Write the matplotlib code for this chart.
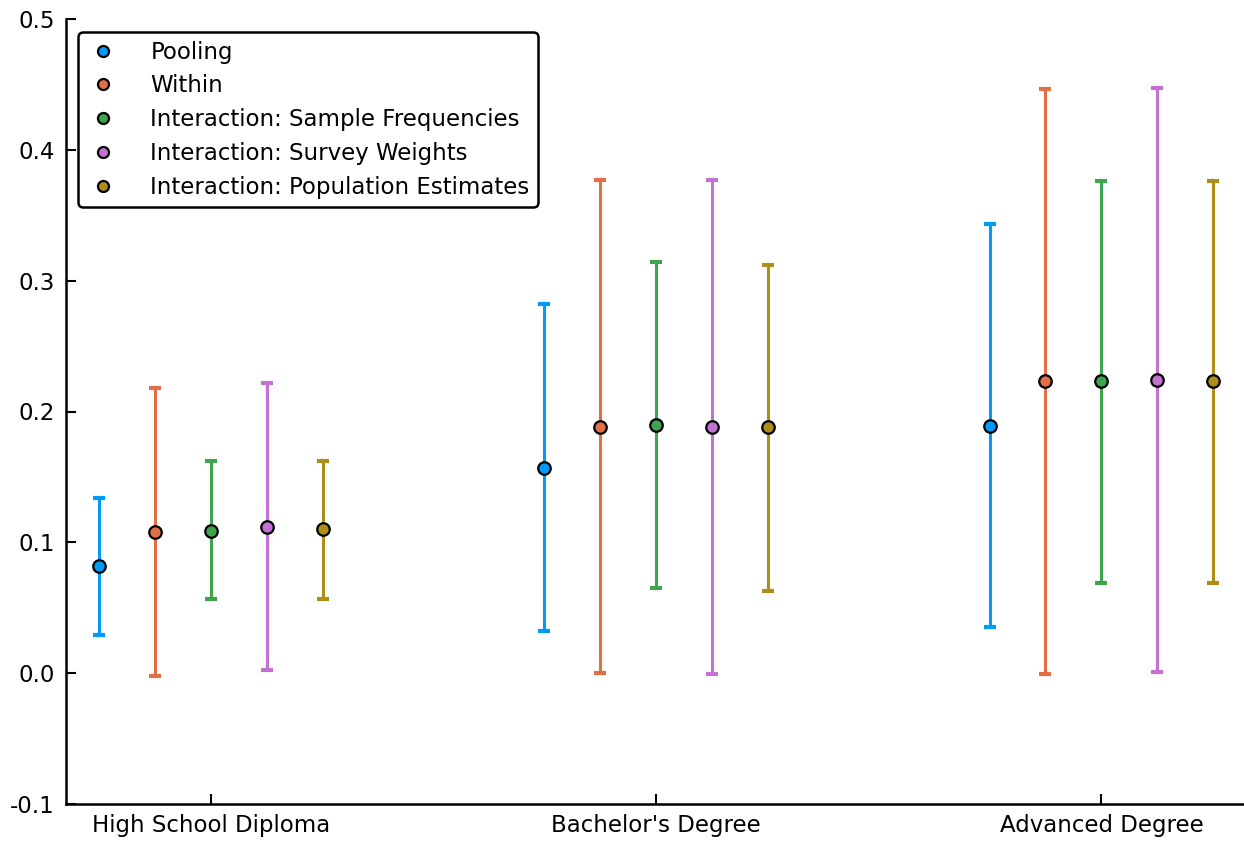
import matplotlib
matplotlib.use("Agg")
import matplotlib.pyplot as plt
import numpy as np

categories = ["High School Diploma", "Bachelor's Degree", "Advanced Degree"]
series = ["Pooling", "Within", "Interaction: Sample Frequencies",
          "Interaction: Survey Weights", "Interaction: Population Estimates"]
colors = ["#009AFA", "#E36F47", "#3EA44E", "#C371D2", "#AC8E18"]

# point estimates, one list per series (HS, BA, Adv)
pooling = [0.0817, 0.157, 0.189]
within = [0.108, 0.1885, 0.223]
sample_freq = [0.109, 0.190, 0.223]
survey_w = [0.112, 0.1885, 0.2237]
pop_est = [0.110, 0.188, 0.223]

# confidence bounds
pooling_lo = [0.029, 0.032, 0.035]
pooling_hi = [0.134, 0.282, 0.343]
within_lo = [-0.002, 0.0, -0.001]
within_hi = [0.218, 0.377, 0.4466]
sample_freq_lo = [0.0565, 0.065, 0.0687]
sample_freq_hi = [0.162, 0.3145, 0.3763]
survey_w_lo = [0.0023, -0.001, 0.0008]
survey_w_hi = [0.222, 0.377, 0.447]
pop_est_lo = [0.057, 0.0626, 0.0687]
pop_est_hi = [0.162, 0.312, 0.376]

ests = [pooling, within, sample_freq, survey_w, pop_est]
los = [pooling_lo, within_lo, sample_freq_lo, survey_w_lo, pop_est_lo]
his = [pooling_hi, within_hi, sample_freq_hi, survey_w_hi, pop_est_hi]

fig = plt.figure(figsize=(12.44, 8.42), dpi=100)
ax = fig.add_axes([66 / 1244, 38 / 842, 1 - 66 / 1244, (804 - 19) / 842])

base = np.arange(1, len(categories) + 1)
step = 0.1257
for i, (name, c) in enumerate(zip(series, colors)):
    x = base + (i - 2) * step
    y = np.array(ests[i])
    lo = y - np.array(los[i])
    hi = np.array(his[i]) - y
    ax.errorbar(x, y, yerr=[lo, hi], fmt="none", ecolor=c, elinewidth=2.2,
                capsize=4.5, capthick=3.0, zorder=2)
    ax.plot(x, y, "o", color=c, markersize=9, markeredgecolor="black",
            markeredgewidth=1.6, zorder=3, label=name, linestyle="none")

ax.set_xlim(0.675, 3.32)
ax.set_ylim(-0.1, 0.5)
ax.set_xticks(base)
ax.set_xticklabels(categories)
ax.set_yticks(np.arange(-0.1, 0.51, 0.1))
ax.set_yticklabels(["-0.1", "0.0", "0.1", "0.2", "0.3", "0.4", "0.5"])
ax.tick_params(direction="in", length=7, width=1.5, labelsize=16.5)
ax.tick_params(axis="x", pad=7)
ax.tick_params(axis="y", pad=8)
for s in ["top", "right"]:
    ax.spines[s].set_visible(False)
for s in ["left", "bottom"]:
    ax.spines[s].set_linewidth(1.8)

leg = ax.legend(loc="upper left", bbox_to_anchor=(0.0102, 0.983), borderaxespad=0,
                fontsize=16.5, frameon=True, fancybox=True, edgecolor="black",
                framealpha=1, markerscale=0.88, handletextpad=1.3,
                labelspacing=0.47, borderpad=0.36, handlelength=1.5)
leg.get_frame().set_linewidth(1.8)

fig.savefig("out.png", dpi=100, facecolor="white")
